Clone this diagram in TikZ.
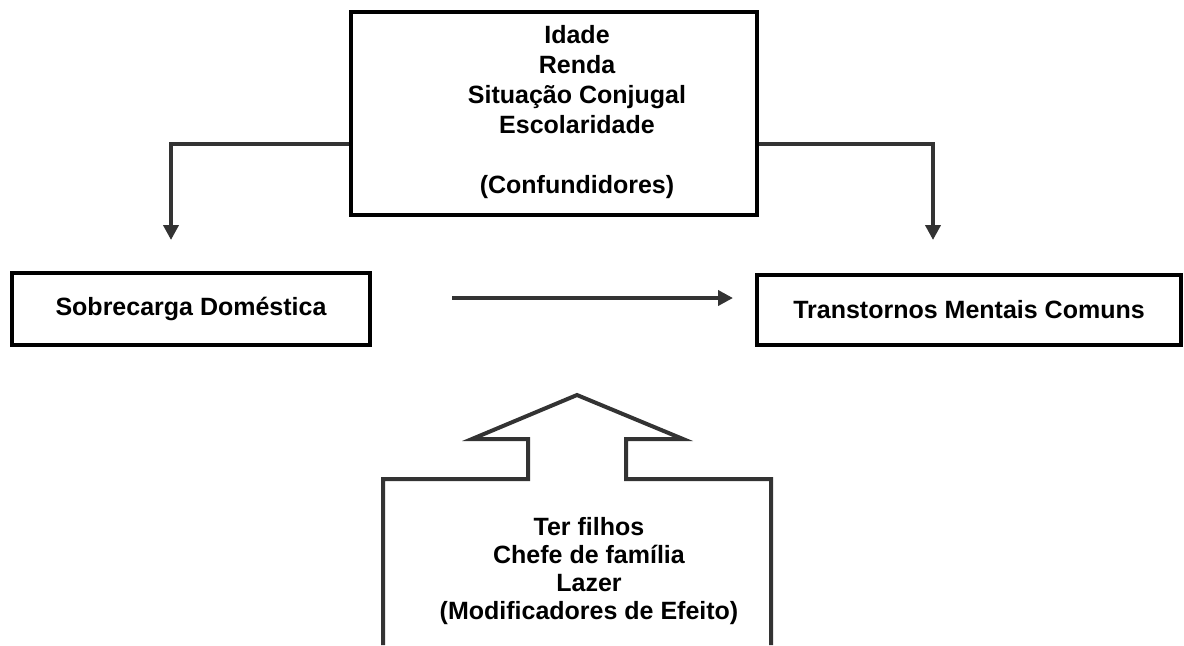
\documentclass[tikz,border=0pt]{standalone}
\usepackage{fontspec}
\setmainfont{Liberation Sans}
\usetikzlibrary{arrows.meta}
\definecolor{arrowgray}{HTML}{333333}
\tikzset{
  varbox/.style={draw=black,line width=2.1pt,inner sep=0},
  boxtext/.style={font=\bfseries\fontsize{12.5}{15}\selectfont,align=center},
  conn/.style={draw=arrowgray,line width=2pt,-{Triangle[length=7.5pt,width=7.5pt]}},
}
\begin{document}
\begin{tikzpicture}[x=0.5pt,y=-0.5pt]
\useasboundingbox (0,0) rectangle (1184,645);
%boxes
\node[varbox,minimum width=203pt,minimum height=101.5pt] (conf) at (554,113.5) {};
\node[boxtext] (conftext) at (577,112) {Idade\\Renda\\Situação Conjugal\\Escolaridade\\[15pt](Confundidores)};
\node[varbox,boxtext,minimum width=179pt,minimum height=36pt] (sobre) at (191,309) {Sobrecarga Doméstica};
\node[varbox,boxtext,minimum width=212pt,minimum height=35pt] (tmc) at (969,310) {Transtornos Mentais Comuns};
%arrows
\coordinate (ltip) at (171,240);
\coordinate (rtip) at (933,240);
\coordinate (effstart) at (452,298);
\coordinate (effend) at (733,298);
\draw[conn] ([yshift=-15.25pt]conf.west) -| (ltip);
\draw[conn] ([yshift=-15.25pt]conf.east) -| (rtip);
\draw[conn] (effstart) -- (effend);
%modifiers
\draw[line width=2pt,draw=arrowgray] (383,645) -- (383,479) -- (528,479) -- (528,439) -- (472,439)
  -- (577,395) -- (683,439) -- (626,439) -- (626,479) -- (771,479) -- (771,645);
\node[boxtext,font=\bfseries\fontsize{12.5}{14}\selectfont] (modif) at (589,571.5) {Ter filhos\\Chefe de família\\Lazer\\(Modificadores de Efeito)};
\end{tikzpicture}
\end{document}
